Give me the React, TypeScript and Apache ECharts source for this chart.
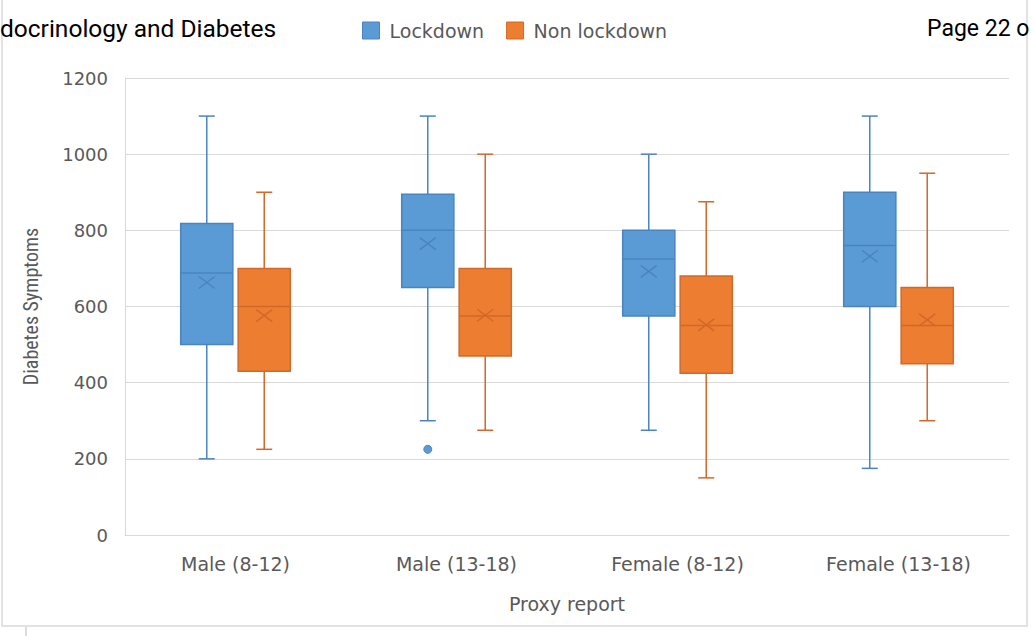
import React, { useEffect, useRef } from "react";
import * as echarts from "echarts";

const categories = ["Male (8-12)", "Male (13-18)", "Female (8-12)", "Female (13-18)"];
const yTicks = [0, 200, 400, 600, 800, 1000, 1200];

// Lockdown: min, Q1, median, Q3, max, mean
const lockMin = [200, 300, 275, 175];
const lockQ1 = [500, 650, 575, 600];
const lockMedian = [688, 800, 725, 760];
const lockQ3 = [818, 895, 800, 900];
const lockMax = [1100, 1100, 1000, 1100];
const lockMean = [663, 765, 692, 732];

// Non lockdown
const nonMin = [225, 275, 150, 300];
const nonQ1 = [430, 470, 425, 450];
const nonMedian = [600, 575, 550, 550];
const nonQ3 = [700, 700, 680, 650];
const nonMax = [900, 1000, 875, 950];
const nonMean = [576, 577, 552, 565];

// Outliers: [category index, value]
const lockOutliers = [[1, 225]];

const BLUE = "#5B9BD5";
const BLUE_DARK = "#4A84BF";
const ORANGE = "#ED7D31";
const ORANGE_DARK = "#D0692A";
const TEXT = "#595959";
const GRID = "#D9D9D9";

const OFFSET = 0.13;
const BOX_FRAC = 0.236;
const CAP = 16;
const XSIZE = 8;

function buildRows(mins: number[], q1: number[], med: number[], q3: number[], max: number[], mean: number[]) {
  return categories.map((_, i) => [i, mins[i], q1[i], med[i], q3[i], max[i], mean[i]]);
}

function makeRender(offset: number, fill: string, stroke: string) {
  return (params: any, api: any) => {
    const xi = api.value(0);
    const band = api.size([1, 0])[0];
    const cx = api.coord([xi, 0])[0] + offset * band;
    const y = (k: number) => api.coord([xi, api.value(k)])[1];
    const half = (band * BOX_FRAC) / 2;
    const yMin = y(1), yQ1 = y(2), yMed = y(3), yQ3 = y(4), yMax = y(5), yMean = y(6);
    const ls = { stroke, lineWidth: 1.5 };
    return {
      type: "group",
      children: [
        { type: "line", shape: { x1: cx, y1: yMax, x2: cx, y2: yQ3 }, style: ls },
        { type: "line", shape: { x1: cx, y1: yQ1, x2: cx, y2: yMin }, style: ls },
        { type: "line", shape: { x1: cx - CAP / 2, y1: yMax, x2: cx + CAP / 2, y2: yMax }, style: ls },
        { type: "line", shape: { x1: cx - CAP / 2, y1: yMin, x2: cx + CAP / 2, y2: yMin }, style: ls },
        {
          type: "rect",
          shape: { x: cx - half, y: yQ3, width: half * 2, height: yQ1 - yQ3 },
          style: { fill, stroke, lineWidth: 1.5 },
        },
        { type: "line", shape: { x1: cx - half, y1: yMed, x2: cx + half, y2: yMed }, style: ls },
        { type: "line", shape: { x1: cx - XSIZE, y1: yMean - XSIZE * 0.75, x2: cx + XSIZE, y2: yMean + XSIZE * 0.75 }, style: ls },
        { type: "line", shape: { x1: cx - XSIZE, y1: yMean + XSIZE * 0.75, x2: cx + XSIZE, y2: yMean - XSIZE * 0.75 }, style: ls },
      ],
    };
  };
}

function makeOutlierRender(offset: number, fill: string, stroke: string) {
  return (params: any, api: any) => {
    const xi = api.value(0);
    const band = api.size([1, 0])[0];
    const p = api.coord([xi, api.value(1)]);
    return {
      type: "circle",
      shape: { cx: p[0] + offset * band, cy: p[1], r: 4 },
      style: { fill, stroke, lineWidth: 1 },
    };
  };
}

export default function App() {
  const ref = useRef<HTMLDivElement>(null);
  useEffect(() => {
    if (!ref.current) return;
    const chart = echarts.init(ref.current, null, { renderer: "svg" });
    const lockRows = buildRows(lockMin, lockQ1, lockMedian, lockQ3, lockMax, lockMean);
    const nonRows = buildRows(nonMin, nonQ1, nonMedian, nonQ3, nonMax, nonMean);
    chart.setOption({
      animation: false,
      backgroundColor: "#ffffff",
      grid: { left: 125, right: 25, top: 78, bottom: 101, containLabel: false },
      legend: {
        left: 357,
        top: 16,
        itemWidth: 17,
        itemHeight: 17,
        itemGap: 22,
        icon: "rect",
        textStyle: { color: TEXT, fontFamily: "DejaVu Sans", fontSize: 19, padding: [0, 0, 0, 5] },
        data: [
          { name: "Lockdown", itemStyle: { color: BLUE, borderColor: BLUE_DARK, borderWidth: 1 } },
          { name: "Non lockdown", itemStyle: { color: ORANGE, borderColor: ORANGE_DARK, borderWidth: 1 } },
        ],
      },
      xAxis: {
        type: "category",
        data: categories,
        name: "Proxy report",
        nameLocation: "middle",
        nameGap: 59,
        nameTextStyle: { color: TEXT, fontFamily: "DejaVu Sans", fontSize: 19 },
        axisLine: { show: true, lineStyle: { color: GRID } },
        axisTick: { show: false },
        axisLabel: { color: TEXT, fontFamily: "DejaVu Sans", fontSize: 19, margin: 19 },
      },
      yAxis: {
        type: "value",
        min: yTicks[0],
        max: yTicks[yTicks.length - 1],
        interval: 200,
        name: "Diabetes Symptoms",
        nameLocation: "middle",
        nameGap: 84,
        nameTextStyle: { color: TEXT, fontFamily: "Roboto Condensed, Liberation Sans Narrow, Roboto", fontSize: 20 },
        axisLine: { show: true, lineStyle: { color: GRID } },
        axisTick: { show: false },
        axisLabel: {
          color: TEXT,
          fontFamily: "DejaVu Sans",
          fontSize: 18,
          margin: 17,
          formatter: (v: number) => String(v),
        },
        splitLine: { lineStyle: { color: GRID, width: 1 } },
      },
      graphic: [
        {
          type: "rect",
          shape: { x: 2, y: -2, width: 1025, height: 628 },
          style: { fill: "none", stroke: "#D9D9D9", lineWidth: 1.5 },
          silent: true,
        },
        {
          type: "line",
          shape: { x1: 26, y1: 627, x2: 26, y2: 636 },
          style: { stroke: "#D0D0D0", lineWidth: 1.5 },
        },
        {
          type: "text",
          left: 0,
          top: 16,
          style: { text: "docrinology and Diabetes", fill: "#000000", fontFamily: "Roboto", fontSize: 24.5 },
        },
        {
          type: "text",
          left: 927,
          top: 17,
          style: { text: "Page 22 o", fill: "#000000", fontFamily: "Roboto", fontSize: 23 },
        },
      ],
      series: [
        {
          name: "Lockdown",
          type: "custom",
          itemStyle: { color: BLUE },
          encode: { x: 0, y: [1, 2, 3, 4, 5, 6] },
          data: lockRows,
          renderItem: makeRender(-OFFSET, BLUE, BLUE_DARK),
          z: 3,
        },
        {
          name: "Non lockdown",
          type: "custom",
          itemStyle: { color: ORANGE },
          encode: { x: 0, y: [1, 2, 3, 4, 5, 6] },
          data: nonRows,
          renderItem: makeRender(OFFSET, ORANGE, ORANGE_DARK),
          z: 3,
        },
        {
          name: "Lockdown",
          type: "custom",
          itemStyle: { color: BLUE },
          encode: { x: 0, y: 1 },
          data: lockOutliers,
          renderItem: makeOutlierRender(-OFFSET, BLUE, BLUE_DARK),
          z: 3,
        },
      ],
    });
    return () => chart.dispose();
  }, []);
  return <div ref={ref} style={{ position: "fixed", left: 0, top: 0, width: 1034, height: 636 }} />;
}
